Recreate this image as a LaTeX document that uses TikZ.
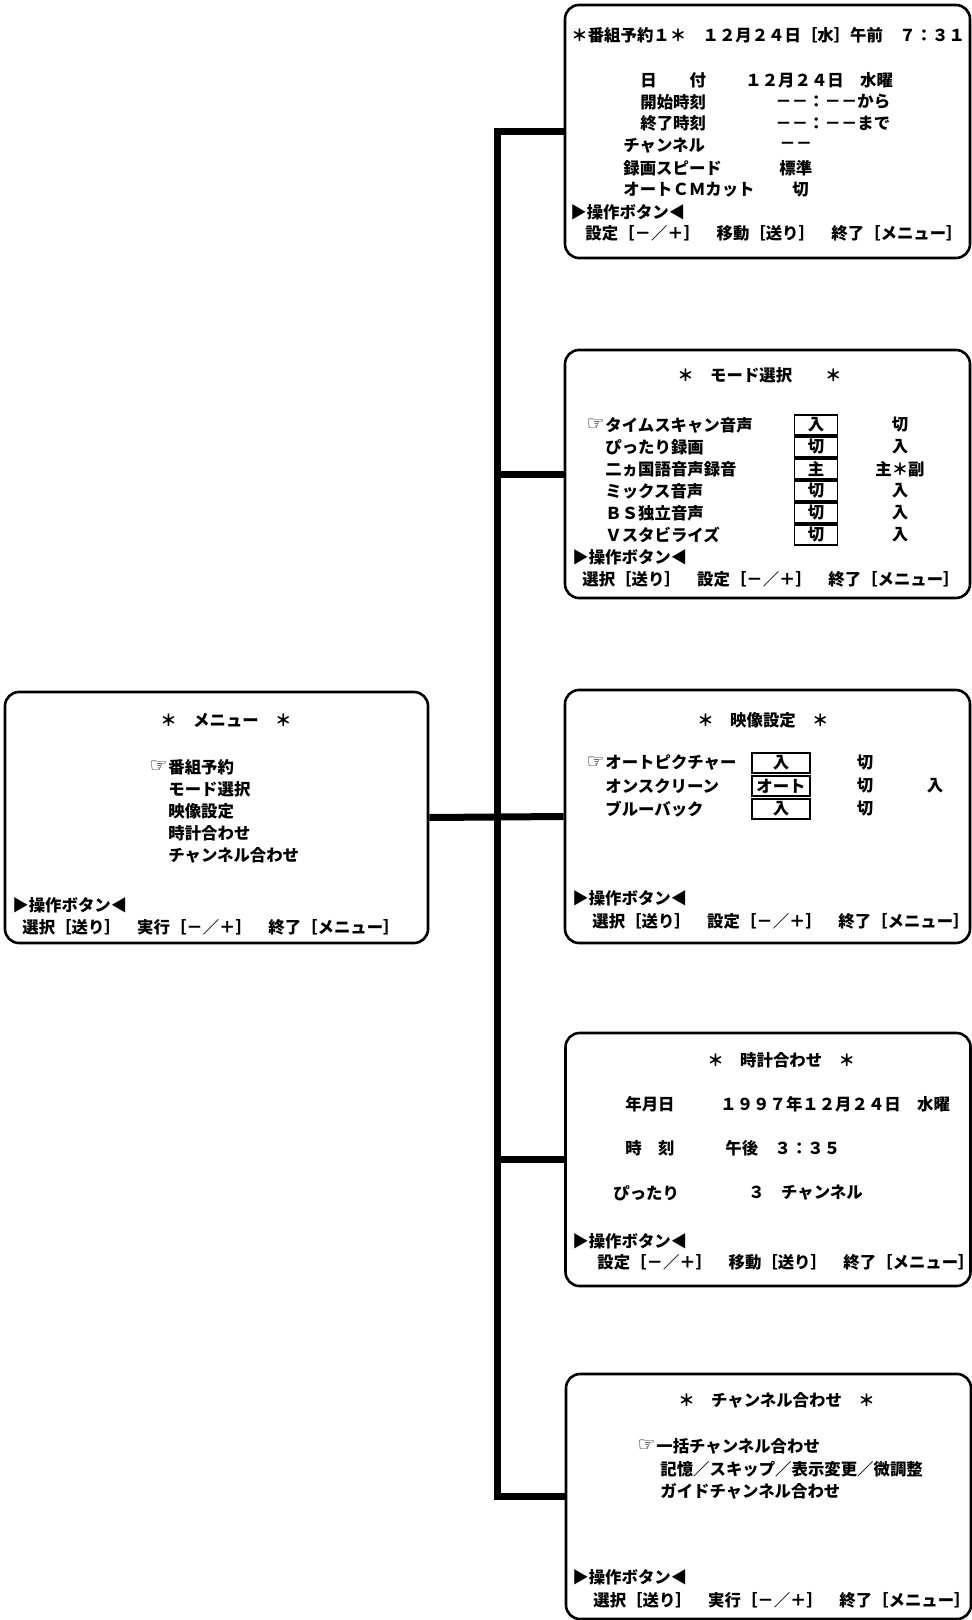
\documentclass[tikz,border=0pt]{standalone}
\usepackage{fontspec}
\setmainfont{Noto Sans CJK JP}
\newfontfamily\symfont{DejaVu Sans}
\begin{document}
\begin{tikzpicture}[x=0.5pt, y=-0.5pt,
    screen/.style={draw, line width=1.3pt, rounded corners=7pt, inner sep=0pt, minimum width=202.5pt},
    txt/.style={anchor=west, inner sep=0pt, font=\fontsize{8.2pt}{9pt}\selectfont\bfseries},
    val/.style={txt, anchor=center},
    sel/.style={val, draw, line width=0.6pt, minimum height=10pt},
    cursor/.style={txt, anchor=east, font=\fontsize{10pt}{10pt}\symfont},
    bus/.style={line width=3.5pt}]
    \useasboundingbox (0,0) rectangle (972,1620);

    % screens
    \node[screen, minimum height=126.5pt] (prog) at (767.5,131.5) {};
    \node[screen, minimum height=124pt] (mode) at (767.5,474) {};
    \node[screen, minimum width=211.5pt, minimum height=125.5pt] (menu) at (216.5,817.5) {};
    \node[screen, minimum height=126.5pt] (video) at (767.5,816.5) {};
    \node[screen, minimum height=126.5pt] (clock) at (768,1159.5) {};
    \node[screen, minimum height=122.5pt] (chan) at (768.5,1496.5) {};

    % wiring
    \coordinate (busx) at (497,0);
    \draw[bus] (prog.west) -- (prog.west -| busx) -- (chan.west -| busx) -- (chan.west);
    \foreach \s in {mode,clock}
        \draw[bus] (\s.west -| busx) -- (\s.west);
    \draw[bus] (menu.east) -- (video.west);

    % menu
    \node[txt] (menuT) at (160,720) {＊　メニュー　＊};
    \foreach \lab [count=\i] in {番組予約,モード選択,映像設定,時計合わせ,チャンネル合わせ} {
        \pgfmathsetmacro{\yy}{745+22*\i}
        \node[txt] (menu\i) at (168,\yy) {\lab};
    }
    \node[cursor] (menuC) at (menu1.west) {☞};
    \node[txt] (menuP) at (12,905) {▶操作ボタン◀};
    \node[txt] (menuK) at (22,927) {選択［送り］　実行［－／＋］　終了［メニュー］};

    % program timer
    \node[txt] (progT) at (571,35) {＊番組予約１＊　１２月２４日［水］午前　７：３１};
    \foreach \lab/\xx/\yy [count=\i] in {日　　付/640/80, 開始時刻/640/102, 終了時刻/640/123,
        チャンネル/623/146, 録画スピード/623/168, オートＣＭカット/623/190} {
        \node[txt] (prog\i) at (\xx,\yy) {\lab};
    }
    \node[txt] (progV1) at (745,80) {１２月２４日　水曜};
    \node[txt] (progV2) at (775,102) {－－：－－から};
    \node[txt] (progV3) at (775,123) {－－：－－まで};
    \node[txt] (progV4) at (779,146) {－－};
    \node[txt] (progV5) at (779,168) {標準};
    \node[txt] (progV6) at (792,190) {切};
    \node[txt] (progP) at (570,212) {▶操作ボタン◀};
    \node[txt] (progK) at (585,233) {設定［－／＋］　移動［送り］　終了［メニュー］};

    % mode select
    \node[txt] (modeT) at (677,375) {＊　モード選択　　＊};
    \foreach \lab/\cur/\alt [count=\i] in {タイムスキャン音声/入/切, ぴったり録画/切/入,
        二ヵ国語音声録音/主/主＊副, ミックス音声/切/入, ＢＳ独立音声/切/入, Ｖスタビライズ/切/入} {
        \pgfmathsetmacro{\yy}{403+22*\i}
        \node[txt] (mode\i) at (605,\yy) {\lab};
        \node[sel, minimum width=21.5pt] (modeS\i) at (816,\yy) {\cur};
        \node[val] (modeA\i) at (900,\yy) {\alt};
    }
    \node[cursor] (modeC) at (mode1.west) {☞};
    \node[txt] (modeP) at (572,557) {▶操作ボタン◀};
    \node[txt] (modeK) at (582,579) {選択［送り］　設定［－／＋］　終了［メニュー］};

    % picture setup
    \node[txt] (videoT) at (697,720) {＊　映像設定　＊};
    \foreach \lab/\cur/\alt [count=\i] in {オートピクチャー/入/切, オンスクリーン/オート/切, ブルーバック/入/切} {
        \pgfmathsetmacro{\yy}{740+23*\i}
        \node[txt] (video\i) at (605,\yy) {\lab};
        \node[sel, minimum width=29pt] (videoS\i) at (781,\yy) {\cur};
        \node[val] (videoA\i) at (865,\yy) {\alt};
    }
    \node[val] (videoB2) at (935,786) {入};
    \node[cursor] (videoC) at (video1.west) {☞};
    \node[txt] (videoP) at (572,898) {▶操作ボタン◀};
    \node[txt] (videoK) at (592,921) {選択［送り］　設定［－／＋］　終了［メニュー］};

    % clock
    \node[txt] (clockT) at (707,1060) {＊　時計合わせ　＊};
    \node[txt] (clock1) at (625,1104) {年月日};
    \node[txt] (clockV1) at (720,1104) {１９９７年１２月２４日　水曜};
    \node[txt] (clock2) at (625,1148) {時　刻};
    \node[txt] (clockV2) at (725,1148) {午後　３：３５};
    \node[txt] (clock3) at (613,1193) {ぴったり};
    \node[txt] (clockV3) at (748,1193) {３　チャンネル};
    \node[txt] (clockP) at (572,1241) {▶操作ボタン◀};
    \node[txt] (clockK) at (597,1262) {設定［－／＋］　移動［送り］　終了［メニュー］};

    % channel setup
    \node[txt] (chanT) at (678,1400) {＊　チャンネル合わせ　＊};
    \node[txt] (chan1) at (656,1446) {一括チャンネル合わせ};
    \node[cursor] (chanC) at (chan1.west) {☞};
    \node[txt] (chan2) at (660,1469) {記憶／スキップ／表示変更／微調整};
    \node[txt] (chan3) at (660,1491) {ガイドチャンネル合わせ};
    \node[txt] (chanP) at (572,1577) {▶操作ボタン◀};
    \node[txt] (chanK) at (593,1600) {選択［送り］　実行［－／＋］　終了［メニュー］};
\end{tikzpicture}
\end{document}
